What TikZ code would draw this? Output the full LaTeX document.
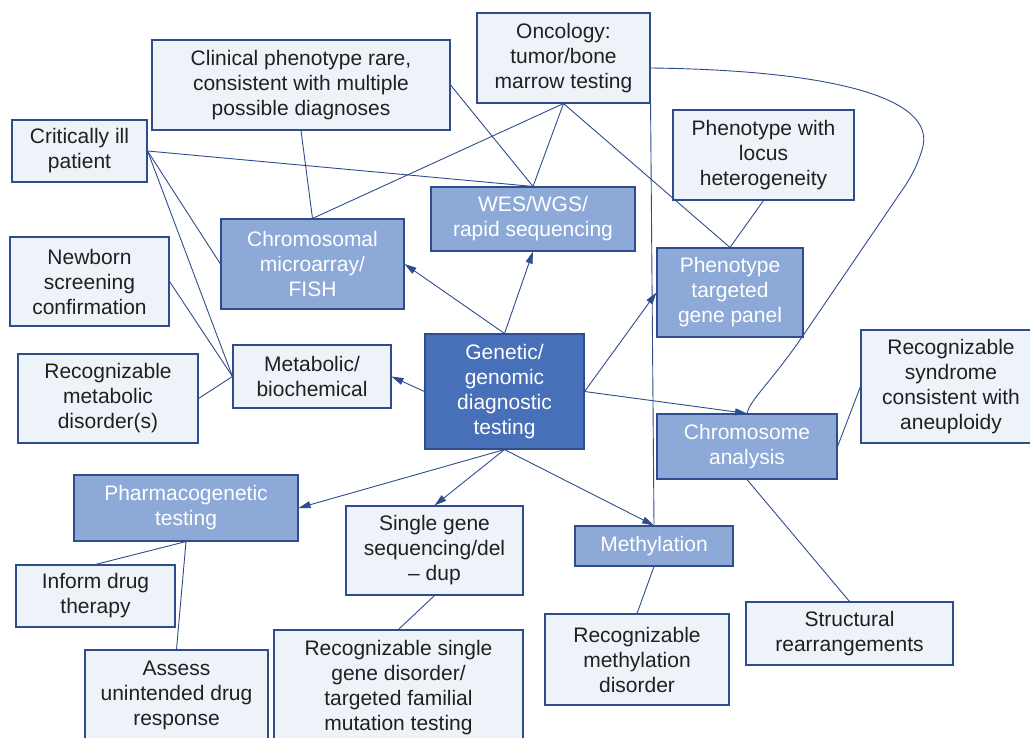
\documentclass[tikz,border=0pt]{standalone}
\usepackage{fontspec}
\setmainfont{Liberation Sans}
\usetikzlibrary{arrows.meta}
\definecolor{lightfill}{HTML}{EEF3FA}
\definecolor{midfill}{HTML}{8DA9D7}
\definecolor{darkfill}{HTML}{4770B9}
\definecolor{edgeblue}{HTML}{2E4C8E}
\definecolor{txt}{HTML}{231F20}
\begin{document}
\begin{tikzpicture}[x=1pt,y=-1pt,
  box/.style={draw=edgeblue, line width=1.1pt, align=center, inner sep=0pt,
    font=\fontsize{21}{25}\selectfont},
  lbox/.style={box, fill=lightfill, text=txt},
  mbox/.style={box, fill=midfill, text=white},
  dbox/.style={box, fill=darkfill, text=white},
  link/.style={draw=edgeblue, line width=0.9pt},
  arr/.style={link, -{Triangle[length=12pt,width=7pt]}}]
\useasboundingbox (0,0) rectangle (1030,738);
\clip (0,0) rectangle (1030,738);

\node[lbox, minimum width=298, minimum height=90] (clin) at (301,85) {Clinical phenotype rare,\\consistent with multiple\\possible diagnoses};
\node[lbox, minimum width=135, minimum height=62] (crit) at (79.5,151) {Critically ill\\patient};
\node[lbox, minimum width=159, minimum height=89] (newb) at (89.5,281.5) {Newborn\\screening\\confirmation};
\node[mbox, minimum width=183, minimum height=90] (cma) at (312.5,264) {Chromosomal\\microarray/\\FISH};
\node[mbox, minimum width=204, minimum height=64] (wes) at (533,219) {WES/WGS/\\rapid sequencing};
\node[lbox, minimum width=173, minimum height=90] (onc) at (563.5,58) {Oncology:\\tumor/bone\\marrow testing};
\node[lbox, minimum width=181, minimum height=90] (loc) at (763.5,155) {Phenotype with\\locus\\heterogeneity};
\node[mbox, minimum width=146, minimum height=89] (panel) at (730,292.5) {Phenotype\\targeted\\gene panel};
\node[lbox, minimum width=180, minimum height=113] (aneu) at (951,386.5) {Recognizable\\syndrome\\consistent with\\aneuploidy};
\node[mbox, minimum width=180, minimum height=65] (chrom) at (747,446.5) {Chromosome\\analysis};
\node[dbox, minimum width=159, minimum height=115] (gen) at (504.5,391.5) {Genetic/\\genomic\\diagnostic\\testing};
\node[lbox, minimum width=158, minimum height=63] (meta) at (312,376.5) {Metabolic/\\biochemical};
\node[lbox, minimum width=180, minimum height=89] (rmeta) at (108,398.5) {Recognizable\\metabolic\\disorder(s)};
\node[mbox, minimum width=224, minimum height=66] (pharm) at (186,508) {Pharmacogenetic\\testing};
\node[lbox, minimum width=177, minimum height=89] (single) at (434.5,550.5) {Single gene\\sequencing/del\\– dup};
\node[lbox, minimum width=159, minimum height=62] (inform) at (95.5,596) {Inform drug\\therapy};
\node[lbox, minimum width=183, minimum height=90] (assess) at (176.5,695) {Assess\\unintended drug\\response};
\node[lbox, minimum width=249, minimum height=115] (rsingle) at (398.5,687.5) {Recognizable single\\gene disorder/\\targeted familial\\mutation testing};
\node[mbox, minimum width=158, minimum height=40] (meth) at (654,546) {Methylation};
\node[lbox, minimum width=184, minimum height=91] (rmeth) at (637,659.5) {Recognizable\\methylation\\disorder};
\node[lbox, minimum width=207, minimum height=63] (struct) at (849.5,633.5) {Structural\\rearrangements};

% plain connectors
\draw[link] (crit.east) -- (wes.north);
\draw[link] (crit.east) -- (cma.west);
\draw[link] (crit.east) -- (meta.west);
\draw[link] (clin.east) -- (wes.north);
\draw[link] (clin.south) -- (cma.north);
\draw[link] (onc.south) -- (wes.north);
\draw[link] (onc.south) -- (cma.north);
\draw[link] (onc.south) -- (panel.north);
\draw[link] (loc.south) -- (panel.north);
\draw[link] (onc.south east) -- (meth.north);
\draw[link] (newb.east) -- (meta.west);
\draw[link] (rmeta.east) -- (meta.west);
\draw[link] (pharm.south) -- (inform.north);
\draw[link] (pharm.south) -- (assess.north);
\draw[link] (single.south) -- (rsingle.north);
\draw[link] (meth.south) -- (rmeth.north);
\draw[link] (chrom.south) -- (struct.north);
\draw[link] (chrom.east) -- (aneu.west);
\draw[link] ([yshift=-10pt]onc.east) .. controls (820,70) and (940,95) .. (922,150)
  .. controls (917,166) and (912,175) .. (905,186) -- (800,340)
  .. controls (770,383) and (750,400) .. (chrom.north);

% arrows
\draw[arr] (gen.north) -- (cma.east);
\draw[arr] (gen.north) -- (wes.south);
\draw[arr] (gen.west) -- (meta.east);
\draw[arr] (gen.east) -- (panel.west);
\draw[arr] (gen.east) -- (chrom.north);
\draw[arr] (gen.south) -- (pharm.east);
\draw[arr] (gen.south) -- (single.north);
\draw[arr] (gen.south) -- (meth.north);
\end{tikzpicture}
\end{document}
